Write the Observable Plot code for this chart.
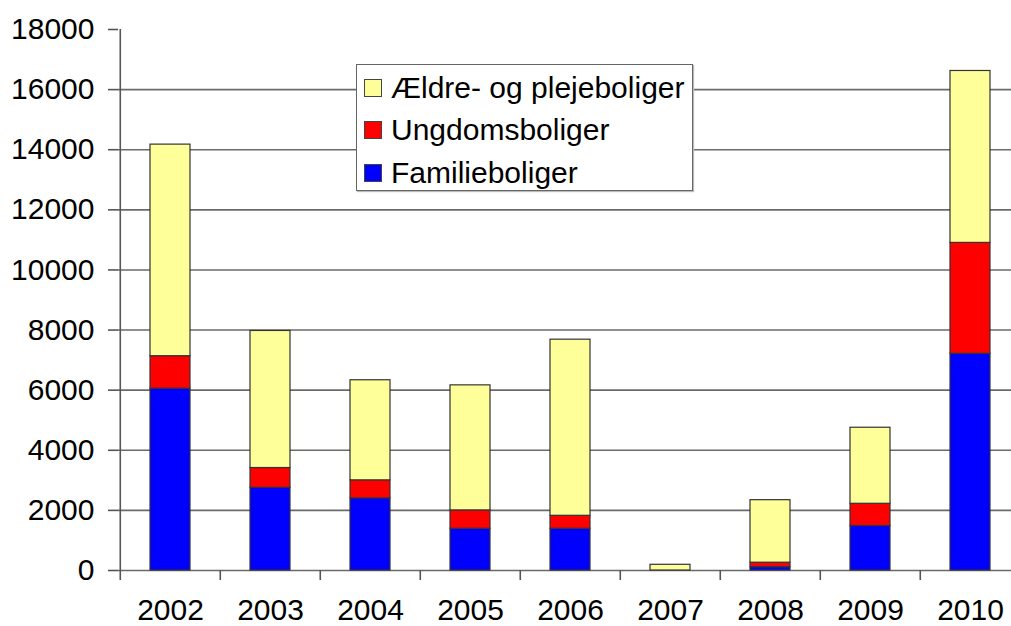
<!DOCTYPE html>
<html>
<head>
<meta charset="utf-8">
<script src="https://cdn.jsdelivr.net/npm/d3@7"></script>
<script src="https://cdn.jsdelivr.net/npm/@observablehq/plot@0.6"></script>
<style>
  body { margin: 0; background: #fff; font-family: "Liberation Sans", Arial, sans-serif; }
  #wrap { position: relative; width: 1011px; height: 626px; overflow: hidden; }
  #legend {
    position: absolute; left: 356px; top: 64px; width: 337px; height: 127px;
    box-sizing: border-box; border: 1.5px solid #666; background: #fff;
    box-shadow: 1px 1px 1px #bbb;
  }
  .item { position: absolute; left: 0; height: 30px; display: flex; align-items: center; font-size: 30px; color: #000; white-space: nowrap; }
  .sw { width: 18px; height: 18px; box-sizing: border-box; border: 1px solid #444; margin-left: 7px; margin-right: 9px; }
</style>
</head>
<body>
<div id="wrap"><div id="legend"></div></div>
<script>
const years = ["2002", "2003", "2004", "2005", "2006", "2007", "2008", "2009", "2010"];
const series = ["Familieboliger", "Ungdomsboliger", "Ældre- og plejeboliger"];
const colors = ["#0000FF", "#FF0000", "#FFFF99"];
const familie = [6050, 2750, 2400, 1390, 1390, 0, 110, 1480, 7210];
const ungdom  = [1080, 660, 600, 610, 430, 0, 150, 740, 3690];
const aeldre  = [7040, 4560, 3330, 4160, 5860, 190, 2080, 2530, 5720];
const yTicks = [0, 2000, 4000, 6000, 8000, 10000, 12000, 14000, 16000, 18000];
const gridTicks = [0, 2000, 4000, 6000, 8000, 10000, 12000, 14000, 16000];

const values = [familie, ungdom, aeldre];
const data = [];
years.forEach((y, i) => series.forEach((s, k) => data.push({year: y, series: s, value: values[k][i]})));

const xRange = [118, 1022];
const step = (xRange[1] - xRange[0]) / years.length;

const chart = Plot.plot({
  width: 1011,
  height: 626,
  marginLeft: 118,
  marginRight: 0,
  marginTop: 29,
  marginBottom: 56,
  style: {fontFamily: "Liberation Sans, Arial, sans-serif", fontSize: "30px", color: "#000", background: "transparent", overflow: "hidden"},
  x: {domain: years, range: xRange, paddingInner: 0.6, paddingOuter: 0.3, label: null},
  y: {domain: [0, 18000], label: null},
  color: {domain: series, range: colors},
  marks: [
    Plot.gridY(gridTicks, {stroke: "#6a6a6a", strokeOpacity: 1, strokeWidth: 1.6}),
    Plot.barY(data, {x: "year", y: "value", fill: "series", stroke: "#333", strokeWidth: 1.2, order: series}),
    Plot.ruleX([years[0]], {y1: 0, y2: 18000, dx: -step / 2, stroke: "#555", strokeWidth: 1.6}),
    Plot.axisY({ticks: yTicks, tickSize: 10, tickPadding: 14, fontSize: 30, tickFormat: d3.format("d"), stroke: "#555", strokeWidth: 1.6, label: null}),
    Plot.axisX({tickSize: 10, tickFormat: () => "", dx: -step / 2, stroke: "#555", strokeWidth: 1.6, label: null}),
    Plot.axisX({tickSize: 0, tickPadding: 28, fontSize: 30, label: null})
  ]
});
document.getElementById("wrap").prepend(chart);

const legend = document.getElementById("legend");
const legendOrder = [2, 1, 0];
legendOrder.forEach((k, r) => {
  const it = document.createElement("div");
  it.className = "item";
  it.style.top = (8 + r * 42.3) + "px";
  const sw = document.createElement("div");
  sw.className = "sw";
  sw.style.background = colors[k];
  const tx = document.createElement("span");
  tx.textContent = series[k];
  it.append(sw, tx);
  legend.append(it);
});
</script>
</body>
</html>
